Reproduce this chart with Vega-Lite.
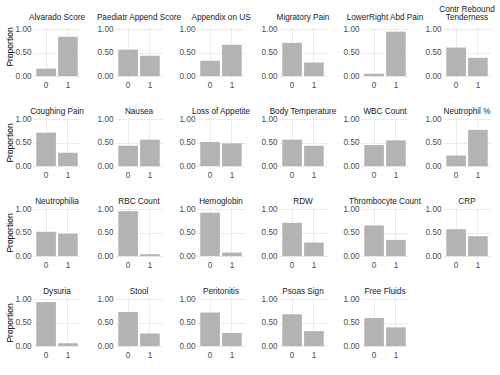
{
  "$schema": "https://vega.github.io/schema/vega-lite/v6.json",
  "padding": {"left": 5, "top": 5, "right": 5, "bottom": 5},
  "background": "white",
  "data": {"values": [
    {"variable": "Alvarado Score", "value": "0", "proportion": 0.16},
    {"variable": "Alvarado Score", "value": "1", "proportion": 0.84},
    {"variable": "Paediatr Append Score", "value": "0", "proportion": 0.565},
    {"variable": "Paediatr Append Score", "value": "1", "proportion": 0.435},
    {"variable": "Appendix on US", "value": "0", "proportion": 0.33},
    {"variable": "Appendix on US", "value": "1", "proportion": 0.67},
    {"variable": "Migratory Pain", "value": "0", "proportion": 0.71},
    {"variable": "Migratory Pain", "value": "1", "proportion": 0.29},
    {"variable": "LowerRight Abd Pain", "value": "0", "proportion": 0.05},
    {"variable": "LowerRight Abd Pain", "value": "1", "proportion": 0.95},
    {"variable": "Contr Rebound Tenderness", "value": "0", "proportion": 0.61},
    {"variable": "Contr Rebound Tenderness", "value": "1", "proportion": 0.39},
    {"variable": "Coughing Pain", "value": "0", "proportion": 0.715},
    {"variable": "Coughing Pain", "value": "1", "proportion": 0.285},
    {"variable": "Nausea", "value": "0", "proportion": 0.435},
    {"variable": "Nausea", "value": "1", "proportion": 0.565},
    {"variable": "Loss of Appetite", "value": "0", "proportion": 0.515},
    {"variable": "Loss of Appetite", "value": "1", "proportion": 0.485},
    {"variable": "Body Temperature", "value": "0", "proportion": 0.565},
    {"variable": "Body Temperature", "value": "1", "proportion": 0.435},
    {"variable": "WBC Count", "value": "0", "proportion": 0.45},
    {"variable": "WBC Count", "value": "1", "proportion": 0.55},
    {"variable": "Neutrophil %", "value": "0", "proportion": 0.225},
    {"variable": "Neutrophil %", "value": "1", "proportion": 0.775},
    {"variable": "Neutrophilia", "value": "0", "proportion": 0.52},
    {"variable": "Neutrophilia", "value": "1", "proportion": 0.48},
    {"variable": "RBC Count", "value": "0", "proportion": 0.96},
    {"variable": "RBC Count", "value": "1", "proportion": 0.04},
    {"variable": "Hemoglobin", "value": "0", "proportion": 0.925},
    {"variable": "Hemoglobin", "value": "1", "proportion": 0.075},
    {"variable": "RDW", "value": "0", "proportion": 0.71},
    {"variable": "RDW", "value": "1", "proportion": 0.29},
    {"variable": "Thrombocyte Count", "value": "0", "proportion": 0.655},
    {"variable": "Thrombocyte Count", "value": "1", "proportion": 0.345},
    {"variable": "CRP", "value": "0", "proportion": 0.575},
    {"variable": "CRP", "value": "1", "proportion": 0.425},
    {"variable": "Dysuria", "value": "0", "proportion": 0.94},
    {"variable": "Dysuria", "value": "1", "proportion": 0.06},
    {"variable": "Stool", "value": "0", "proportion": 0.73},
    {"variable": "Stool", "value": "1", "proportion": 0.27},
    {"variable": "Peritonitis", "value": "0", "proportion": 0.72},
    {"variable": "Peritonitis", "value": "1", "proportion": 0.28},
    {"variable": "Psoas Sign", "value": "0", "proportion": 0.68},
    {"variable": "Psoas Sign", "value": "1", "proportion": 0.32},
    {"variable": "Free Fluids", "value": "0", "proportion": 0.6},
    {"variable": "Free Fluids", "value": "1", "proportion": 0.4}
  ]},
  "spacing": 18,
  "vconcat": [
    {
      "transform": [{"filter": {"field": "variable", "oneOf": ["Alvarado Score", "Paediatr Append Score", "Appendix on US", "Migratory Pain", "LowerRight Abd Pain", "Contr Rebound Tenderness"]}}],
      "facet": {"field": "variable", "type": "nominal", "sort": ["Alvarado Score", "Paediatr Append Score", "Appendix on US", "Migratory Pain", "LowerRight Abd Pain", "Contr Rebound Tenderness"], "title": "Proportion",
        "header": {"labelExpr": "datum.value == 'Contr Rebound Tenderness' ? ['Contr Rebound', 'Tenderness'] : datum.value", "labelBaseline": "middle", "labelLineHeight": 8}},
      "columns": 6,
      "bounds": "flush",
      "spacing": {"column": 34, "row": 0},
      "spec": {
        "width": 48, "height": 51.4,
        "mark": {"type": "bar", "color": "#b3b3b3"},
        "encoding": {
          "x": {"field": "value", "type": "nominal", "scale": {"paddingInner": 0.1, "paddingOuter": 0.15}},
          "y": {"field": "proportion", "type": "quantitative", "scale": {"domain": [-0.05, 1.05], "nice": false, "zero": false}}
        }
      },
      "resolve": {"axis": {"x": "independent", "y": "independent"}}
    },
    {
      "spacing": 18,
      "vconcat": [
        {
          "transform": [{"filter": {"field": "variable", "oneOf": ["Coughing Pain", "Nausea", "Loss of Appetite", "Body Temperature", "WBC Count", "Neutrophil %"]}}],
          "facet": {"field": "variable", "type": "nominal", "sort": ["Coughing Pain", "Nausea", "Loss of Appetite", "Body Temperature", "WBC Count", "Neutrophil %"], "title": "Proportion"},
          "columns": 6,
          "bounds": "flush",
          "spacing": {"column": 34, "row": 0},
          "spec": {
            "width": 48, "height": 51.4,
            "mark": {"type": "bar", "color": "#b3b3b3"},
            "encoding": {
              "x": {"field": "value", "type": "nominal", "scale": {"paddingInner": 0.1, "paddingOuter": 0.15}},
              "y": {"field": "proportion", "type": "quantitative", "scale": {"domain": [-0.05, 1.05], "nice": false, "zero": false}}
            }
          },
          "resolve": {"axis": {"x": "independent", "y": "independent"}}
        },
        {
          "transform": [{"filter": {"field": "variable", "oneOf": ["Neutrophilia", "RBC Count", "Hemoglobin", "RDW", "Thrombocyte Count", "CRP"]}}],
          "facet": {"field": "variable", "type": "nominal", "sort": ["Neutrophilia", "RBC Count", "Hemoglobin", "RDW", "Thrombocyte Count", "CRP"], "title": "Proportion"},
          "columns": 6,
          "bounds": "flush",
          "spacing": {"column": 34, "row": 0},
          "spec": {
            "width": 48, "height": 51.4,
            "mark": {"type": "bar", "color": "#b3b3b3"},
            "encoding": {
              "x": {"field": "value", "type": "nominal", "scale": {"paddingInner": 0.1, "paddingOuter": 0.15}},
              "y": {"field": "proportion", "type": "quantitative", "scale": {"domain": [-0.05, 1.05], "nice": false, "zero": false}}
            }
          },
          "resolve": {"axis": {"x": "independent", "y": "independent"}}
        },
        {
          "transform": [{"filter": {"field": "variable", "oneOf": ["Dysuria", "Stool", "Peritonitis", "Psoas Sign", "Free Fluids"]}}],
          "facet": {"field": "variable", "type": "nominal", "sort": ["Dysuria", "Stool", "Peritonitis", "Psoas Sign", "Free Fluids"], "title": "Proportion"},
          "columns": 6,
          "bounds": "flush",
          "spacing": {"column": 34, "row": 0},
          "spec": {
            "width": 48, "height": 51.4,
            "mark": {"type": "bar", "color": "#b3b3b3"},
            "encoding": {
              "x": {"field": "value", "type": "nominal", "scale": {"paddingInner": 0.1, "paddingOuter": 0.15}},
              "y": {"field": "proportion", "type": "quantitative", "scale": {"domain": [-0.05, 1.05], "nice": false, "zero": false}}
            }
          },
          "resolve": {"axis": {"x": "independent", "y": "independent"}}
        }
      ]
    }
  ],
  "config": {
    "font": "Liberation Sans",
    "view": {"stroke": null},
    "header": {
      "labelFont": "Liberation Sans", "labelFontSize": 8.2, "labelColor": "#1a1a1a", "labelPadding": -2,
      "titleOrient": "left", "titleAngle": -90, "titleFont": "Liberation Sans", "titleFontSize": 8.5,
      "titleFontWeight": "normal", "titleColor": "#000000", "titlePadding": 10, "titleBaseline": "bottom"
    },
    "axisX": {
      "title": null, "labelAngle": 0, "bandPosition": 0.5, "grid": true, "gridColor": "#ebebeb", "gridWidth": 1,
      "domain": false, "ticks": false, "labelFontSize": 8.2, "labelColor": "#4d4d4d", "labelPadding": 3
    },
    "axisY": {
      "title": null, "values": [0, 0.125, 0.25, 0.375, 0.5, 0.625, 0.75, 0.875, 1], "labelOverlap": false,
      "labelExpr": "(datum.value * 4) % 1 === 0 ? format(datum.value, '.2f') : ''",
      "gridColor": {"condition": {"test": "(datum.value * 4) % 1 === 0", "value": "#ebebeb"}, "value": "#f4f4f4"},
      "gridWidth": 1, "domain": false, "ticks": false, "labelFontSize": 8.2, "labelColor": "#4d4d4d", "labelPadding": 2
    }
  }
}
